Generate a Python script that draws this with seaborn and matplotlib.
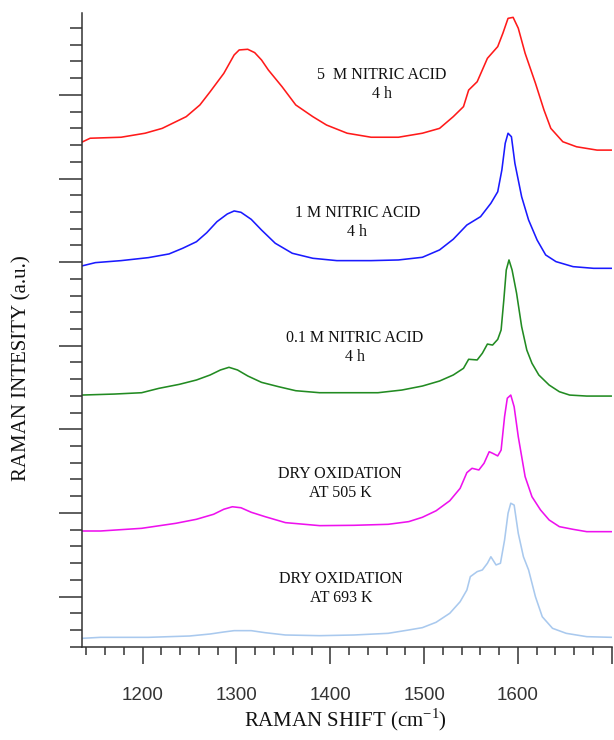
import matplotlib
matplotlib.use("Agg")
import matplotlib.pyplot as plt
import seaborn as sns
import pandas as pd
from matplotlib.ticker import FixedLocator, MultipleLocator

# ---- data (Raman shift in cm-1, stacked intensity in a.u.) ----
red_x = [1135, 1144, 1177, 1202.6, 1220.8, 1246.4, 1261, 1271.9, 1286.5, 1297.5,
         1302.9, 1312, 1319.4, 1326.7, 1334, 1348.6, 1363.2, 1381.4, 1396, 1418, 1443.5, 1472.7,
         1498.2, 1516.5, 1531.1, 1542, 1547.5, 1556.6, 1567.5, 1578.5, 1584, 1589.5,
         1594.9, 1600.4, 1607.7, 1618.7, 1627.8, 1635.1, 1647.9, 1662.5, 1684.4, 1700]
red_y = [30.17, 30.41, 30.47, 30.71, 31.0, 31.7, 32.4, 33.19, 34.29, 35.39,
         35.69, 35.73, 35.53, 35.09, 34.49, 33.49, 32.4, 31.7, 31.2, 30.71, 30.47, 30.47,
         30.71, 31.0, 31.7, 32.3, 33.29, 33.79, 35.19, 35.89, 36.69, 37.58,
         37.64, 36.99, 35.49, 33.7, 32.1, 31.0, 30.2, 29.9, 29.7, 29.7]

blue_x = [1135, 1149.6, 1177, 1206.2, 1228.1, 1242.7, 1257.3, 1268.3, 1279.2, 1290.2,
          1297.5, 1304.8, 1315.7, 1326.7, 1341.3, 1359.5, 1381.4, 1407, 1443.5, 1472.7,
          1498.2, 1516.5, 1531.1, 1545.6, 1560.2, 1571.2, 1578.5, 1582.9, 1586.5, 1589.5,
          1593.1, 1596.8, 1604, 1611.4, 1620.5, 1629.6, 1640.6, 1658.8, 1680.7, 1700]
blue_y = [22.77, 22.97, 23.09, 23.27, 23.49, 23.83, 24.22, 24.76, 25.42, 25.88,
          26.06, 25.98, 25.56, 24.92, 24.13, 23.53, 23.23, 23.09, 23.09, 23.13,
          23.29, 23.73, 24.37, 25.22, 25.72, 26.52, 27.21, 28.51, 30.11, 30.71,
          30.5, 28.91, 26.91, 25.52, 24.32, 23.43, 23.03, 22.73, 22.63, 22.63]

green_x = [1135, 1169.7, 1198.9, 1217.2, 1239, 1257.3, 1271.9, 1282.9, 1292, 1301.1,
           1312.1, 1326.7, 1344.9, 1363.2, 1388.7, 1425.2, 1450.8, 1476.3, 1498.2, 1516.5,
           1531.1, 1542, 1547.5, 1556.6, 1562.1, 1567.5, 1573, 1578.5, 1582.1, 1585,
           1587.6, 1590.5, 1593.8, 1598.6, 1604, 1609.5, 1615, 1622.3, 1633.3, 1644.2,
           1655.2, 1673.4, 1700]
green_y = [15.05, 15.11, 15.19, 15.45, 15.69, 15.95, 16.25, 16.55, 16.71, 16.55,
           16.19, 15.81, 15.55, 15.31, 15.19, 15.19, 15.19, 15.35, 15.59, 15.89,
           16.25, 16.65, 17.19, 17.15, 17.55, 18.1, 18.04, 18.38, 18.94, 20.74,
           22.53, 23.13, 22.53, 21.14, 19.14, 17.74, 16.95, 16.25, 15.65, 15.25,
           15.05, 14.99, 14.99]

magenta_x = [1135, 1155.1, 1198.9, 1235.4, 1257.3, 1275.6, 1286.5, 1295.6, 1304.8, 1315.7,
             1330.3, 1352.2, 1388.7, 1425.2, 1461.7, 1483.6, 1498.2, 1512.8, 1527.4, 1538.4,
             1545.6, 1551.1, 1558.4, 1563.9, 1569.4, 1573, 1578.5, 1582.1, 1585.8, 1588.7,
             1592.4, 1596, 1600.4, 1607.7, 1615, 1624.1, 1633.3, 1644.2, 1658.8, 1673.4, 1700]
magenta_y = [6.92, 6.92, 7.08, 7.38, 7.62, 7.92, 8.22, 8.37, 8.31, 8.04,
             7.78, 7.42, 7.24, 7.26, 7.32, 7.48, 7.74, 8.13, 8.73, 9.47,
             10.41, 10.67, 10.57, 10.97, 11.66, 11.57, 11.41, 11.76, 13.76, 14.86,
             15.05, 14.35, 12.56, 10.17, 8.97, 8.18, 7.58, 7.18, 7.02, 6.88, 6.88]

lightblue_x = [1135, 1155.1, 1206.2, 1250, 1271.9, 1286.5, 1297.5, 1315.7, 1330.3, 1352.2,
               1388.7, 1425.2, 1461.7, 1483.6, 1498.2, 1512.8, 1527.4, 1538.4, 1545.6, 1549.3,
               1556.6, 1562.1, 1567.5, 1571.2, 1576.7, 1581.4, 1585.8, 1589.5, 1592.4, 1596,
               1600.4, 1605.9, 1611.4, 1618.7, 1626, 1636.9, 1651.5, 1673.4, 1700]
lightblue_y = [0.50, 0.56, 0.56, 0.64, 0.76, 0.88, 0.96, 0.96, 0.84, 0.70,
               0.66, 0.70, 0.80, 1.0, 1.14, 1.46, 2.0, 2.69, 3.39, 4.19,
               4.49, 4.59, 4.99, 5.38, 4.89, 4.99, 6.38, 7.98, 8.58, 8.47,
               6.78, 5.38, 4.59, 2.99, 1.79, 1.10, 0.80, 0.60, 0.56]

series_names = ["5 M HNO3", "1 M HNO3", "0.1 M HNO3", "Dry 505 K", "Dry 693 K"]
series_labels = ["5  M NITRIC ACID\n4 h", "1 M NITRIC ACID\n4 h",
                 "0.1 M NITRIC ACID\n4 h", "DRY OXIDATION\nAT 505 K",
                 "DRY OXIDATION\nAT 693 K"]
x_tick_values = [1200, 1300, 1400, 1500, 1600, 1700]
x_tick_labels = ["1200", "1300", "1400", "1500", "1600", ""]

# ---- styles / positions ----
colors = ["#ff1a1a", "#1a1aff", "#228b22", "#ee11ee", "#a9c9ee"]
label_pos = [(1455, 33.6), (1429, 25.37), (1426, 17.88), (1410.5, 9.79), (1411.5, 3.46)]

xs = [red_x, blue_x, green_x, magenta_x, lightblue_x]
ys = [red_y, blue_y, green_y, magenta_y, lightblue_y]
frames = []
for name, x, y in zip(series_names, xs, ys):
    frames.append(pd.DataFrame({"shift": x, "intensity": y, "sample": name}))
df = pd.concat(frames, ignore_index=True)

sns.set_theme(style="ticks")
plt.rcParams["font.family"] = ["Liberation Sans", "DejaVu Sans"]

fig = plt.figure(figsize=(6.14, 7.40), dpi=100)
ax = fig.add_axes([81.7 / 614, 1 - 646.7 / 740, (611.7 - 81.7) / 614, (646.7 - 13) / 740])

sns.lineplot(data=df, x="shift", y="intensity", hue="sample", hue_order=series_names,
             palette=colors, estimator=None, sort=False, linewidth=1.15, legend=False, ax=ax)

ax.set_xlim(1135, 1700)
ax.set_ylim(0, 37.9)

ax.xaxis.set_major_locator(FixedLocator(x_tick_values))
ax.set_xticklabels(x_tick_labels)
ax.xaxis.set_minor_locator(MultipleLocator(20))
ax.yaxis.set_major_locator(FixedLocator([3, 8, 13, 18, 23, 28, 33]))
ax.yaxis.set_minor_locator(MultipleLocator(1))
ax.set_yticklabels([])

tick_col = "#333333"
ax.tick_params(axis="x", which="major", length=12.2, width=1.1, direction="out",
               labelsize=13.5, pad=16.5, colors=tick_col)
ax.tick_params(axis="x", which="minor", length=5.8, width=1.1, direction="out", colors=tick_col)
ax.tick_params(axis="y", which="major", length=16.6, width=1.1, direction="out", colors=tick_col)
ax.tick_params(axis="y", which="minor", length=8.6, width=1.1, direction="out", colors=tick_col)

for s in ["top", "right"]:
    ax.spines[s].set_visible(False)
for s in ["left", "bottom"]:
    ax.spines[s].set_linewidth(1.1)
    ax.spines[s].set_color(tick_col)

ax.set_xlabel("")
ax.set_ylabel("")

serif = ["Liberation Serif", "DejaVu Serif"]
for (lx, ly), txt in zip(label_pos, series_labels):
    ax.text(lx, ly, txt, ha="center", va="center", fontsize=11.5, family=serif,
            color="#111111", linespacing=1.25)

fig.text(345 / 614, 1 - 720 / 740, "RAMAN SHIFT (cm$^{\\mathregular{-1}}$)", ha="center", va="center",
         fontsize=15, family=serif, color="#111111")
fig.text(22 / 614, 1 - 368 / 740, "RAMAN INTESITY (a.u.)", ha="center", va="center",
         rotation=90, fontsize=15, family=serif, color="#111111")

fig.savefig("out.png", dpi=100, facecolor="white")
